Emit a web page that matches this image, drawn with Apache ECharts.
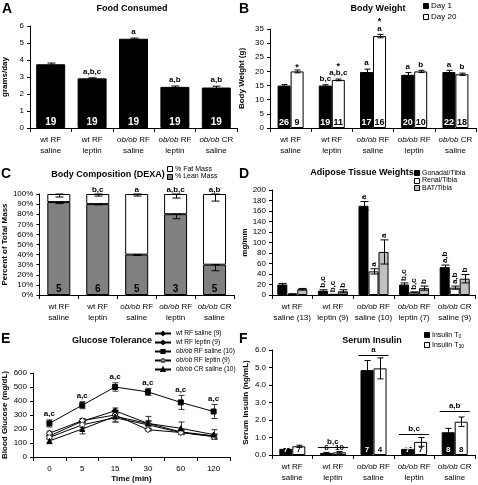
<!DOCTYPE html>
<html><head><meta charset="utf-8">
<script src="https://cdn.jsdelivr.net/npm/echarts@6/dist/echarts.min.js"></script>
<style>html,body{margin:0;padding:0;background:#fff}#c{width:478px;height:485px}</style>
</head><body><div id="c"></div>
<script>
// ---------- DATA ----------
const groupLabels = ['wt RF\nsaline', 'wt RF\nleptin', 'ob/ob RF\nsaline', 'ob/ob RF\nleptin', 'ob/ob CR\nsaline'];
const adiposeLabels = ['wt RF\nsaline (13)', 'wt RF\nleptin (9)', 'ob/ob RF\nsaline (10)', 'ob/ob RF\nleptin (7)', 'ob/ob CR\nsaline (9)'];
// A Food consumed
const foodMean = [3.75, 2.92, 5.25, 2.42, 2.38];
const foodErr = [0.07, 0.03, 0.04, 0.05, 0.08];
const foodN = ['19', '19', '19', '19', '19'];
const foodSig = ['', 'a,b,c', 'a', 'a,b', 'a,b'];
// B Body weight
const bwDay1 = [15, 15, 19.8, 18.8, 19.8];
const bwDay1Err = [0.4, 0.3, 1.0, 0.8, 0.6];
const bwDay20 = [20, 17, 32.5, 20, 19];
const bwDay20Err = [0.5, 0.3, 0.6, 0.4, 0.4];
const bwDay1N = ['26', '19', '17', '20', '22'];
const bwDay20N = ['9', '11', '16', '10', '18'];
const bwDay1Sig = ['', 'b,c', 'a', 'a', 'a'];
const bwDay20Sig = ['', 'a,b,c', 'a', 'b', 'b'];
const bwDay20Star = ['*', '*', '*', '', ''];
// C Body composition
const leanPct = [92, 90, 40, 80, 30];
const leanErr = [1.5, 0.7, 0.8, 4.5, 6];
const fatPct = [8, 10, 60, 20, 70];
const fatErr = [3, 2, 2, 4, 7];
const dexaN = ['5', '6', '5', '3', '5'];
const dexaSig = ['', 'b,c', 'a', 'a,b,c', 'a,b'];
// D Adipose tissue weights
const gonadal = [20, 8, 170, 20, 53];
const gonadalErr = [2, 2, 8, 3, 4];
const renal = [2, 1, 45, 5, 14];
const renalErr = [0.3, 0.3, 5, 1, 3];
const bat = [11, 7, 82, 13, 31];
const batErr = [1.5, 3, 23, 4, 8];
const gonadalSig = ['', 'b,c', 'a', 'b,c', 'a,b'];
const renalSig = ['', 'b,c', 'a', 'b,c', 'a,b'];
const batSig = ['', 'b', 'a', 'b', 'b'];
// E Glucose tolerance
const timePoints = ['0', '5', '15', '30', '60', '120'];
const gttWtSaline = [150, 255, 330, 240, 180, 150];
const gttWtSalineErr = [15, 15, 20, 20, 15, 15];
const gttWtLeptin = [170, 260, 300, 195, 175, 150];
const gttWtLeptinErr = [15, 15, 20, 10, 10, 10];
const gttObSaline = [240, 370, 500, 465, 390, 325];
const gttObSalineErr = [25, 25, 30, 25, 50, 50];
const gttObLeptin = [140, 230, 280, 230, 175, 145];
const gttObLeptinErr = [15, 20, 30, 25, 15, 15];
const gttObCR = [115, 200, 290, 240, 205, 160];
const gttObCRErr = [20, 35, 40, 50, 45, 35];
const gttObSalineSig = ['a,c', 'a,c', 'a,c', 'a,c', 'a,c', 'a,c'];
// F Serum insulin
const insT0 = [0.35, 0.12, 4.85, 0.35, 1.3];
const insT0Err = [0.02, 0.03, 0.55, 0.08, 0.22];
const insT30 = [0.5, 0.15, 4.95, 0.75, 1.9];
const insT30Err = [0.06, 0.05, 0.6, 0.25, 0.27];
const insT0N = ['7', '6', '7', '7', '8'];
const insT30N = ['7', '10', '4', '7', '8'];
const insSig = ['', 'b,c', 'a', 'b,c', 'a,b'];
const insBracket = [null, 0.45, 5.7, 1.2, 2.5];

// ---------- HELPERS ----------
const FONT = '"Liberation Sans", Arial, sans-serif';
const f = (s, b) => (b ? 'bold ' : '') + s + 'px ' + FONT;
const richOb = s => s.replace(/ob\/ob/g, '{i|ob/ob}');

function catAxis(gi, data, extra) {
  return Object.assign({
    type: 'category', gridIndex: gi, data: data,
    axisLine: { lineStyle: { color: '#000', width: 1 } },
    axisTick: { show: true, length: 4, lineStyle: { color: '#000' } },
    axisLabel: {
      color: '#000', fontSize: 8, fontFamily: FONT, margin: 6, lineHeight: 11, interval: 0,
      formatter: v => richOb(v),
      rich: { i: { fontStyle: 'italic', fontSize: 8, fontFamily: FONT, lineHeight: 11, color: '#000' } }
    }
  }, extra || {});
}
function valAxis(gi, max, interval, name, gap, fmt) {
  return {
    type: 'value', gridIndex: gi, min: 0, max: max, interval: interval,
    name: name, nameLocation: 'middle', nameGap: gap,
    nameTextStyle: { fontSize: 8, fontWeight: 'bold', fontFamily: FONT, color: '#000' },
    splitLine: { show: false },
    axisLine: { show: true, lineStyle: { color: '#000' } },
    axisTick: { show: true, length: 3, lineStyle: { color: '#000' } },
    axisLabel: { fontSize: 8, fontFamily: FONT, color: '#000', margin: 6, formatter: fmt }
  };
}
// items: [cat, value, errMinus, errPlus, offsetPx]
function errSeries(ai, items, cap, color) {
  return {
    type: 'custom', xAxisIndex: ai, yAxisIndex: ai, z: 10, silent: true,
    data: items.map(it => [it[0], it[1]]),
    renderItem: (params, api) => {
      const it = items[params.dataIndex];
      const top = api.coord([it[0], it[1] + it[3]]);
      const bot = api.coord([it[0], it[1] - it[2]]);
      const x = Math.round(top[0] + (it[4] || 0)) + 0.5;
      const st = { stroke: color || '#000', lineWidth: 1 };
      return {
        type: 'group', children: [
          { type: 'line', shape: { x1: x, y1: top[1], x2: x, y2: bot[1] }, style: st },
          { type: 'line', shape: { x1: x - cap, y1: top[1], x2: x + cap, y2: top[1] }, style: st },
          { type: 'line', shape: { x1: x - cap, y1: bot[1], x2: x + cap, y2: bot[1] }, style: st }
        ]
      };
    }
  };
}
function textSeries(ai, items) {
  return {
    type: 'custom', xAxisIndex: ai, yAxisIndex: ai, z: 11, silent: true,
    data: items.map(it => [it.c, it.v]),
    renderItem: (params, api) => {
      const it = items[params.dataIndex];
      const p = api.coord([it.c, it.v]);
      const al = it.align || 'center', va = it.va || 'bottom';
      return {
        type: 'text', x: p[0] + (it.dx || 0), y: p[1] + (it.dy || 0), rotation: it.rot || 0,
        style: { text: it.t, fill: it.color || '#000', font: f(it.size || 8, it.bold), align: al, verticalAlign: va, textAlign: al, textVerticalAlign: va }
      };
    }
  };
}
function bracketSeries(ai, items, half) {
  return {
    type: 'custom', xAxisIndex: ai, yAxisIndex: ai, z: 11, silent: true,
    data: items.map(it => [it.c, it.v]),
    renderItem: (params, api) => {
      const it = items[params.dataIndex];
      const p = api.coord([it.c, it.v]);
      const y = Math.round(p[1]) + 0.5;
      return {
        type: 'group', children: [
          { type: 'line', shape: { x1: p[0] - half, y1: y, x2: p[0] + half, y2: y }, style: { stroke: '#000', lineWidth: 1 } },
          { type: 'text', x: p[0], y: y - 2, style: { text: it.t, font: f(8, true), fill: '#000', align: 'center', verticalAlign: 'bottom', textAlign: 'center', textVerticalAlign: 'bottom' } }
        ]
      };
    }
  };
}
const nonEmpty = (arr, fn) => arr.map(fn).filter(x => x && x.t);

// ---------- GRIDS / AXES ----------
const grids = [
  { left: 30, top: 26, width: 207, height: 102 },
  { left: 270, top: 29, width: 206, height: 99 },
  { left: 33, top: 194, width: 201, height: 101 },
  { left: 272, top: 190, width: 203, height: 105 },
  { left: 31, top: 373, width: 199, height: 84 },
  { left: 272, top: 350, width: 203, height: 105 }
];
const xAxes = [
  catAxis(0, groupLabels), catAxis(1, groupLabels), catAxis(2, groupLabels),
  catAxis(3, adiposeLabels), catAxis(4, timePoints, { name: 'Time (min)', nameLocation: 'middle', nameGap: 17, nameTextStyle: { fontSize: 8, fontWeight: 'bold', fontFamily: FONT, color: '#000' } }),
  catAxis(5, groupLabels)
];
const yAxes = [
  valAxis(0, 6, 1, 'grams/day', 21),
  valAxis(1, 35, 5, 'Body Weight (g)', 24),
  valAxis(2, 100, 10, 'Percent of Total Mass', 26, '{value}%'),
  valAxis(3, 200, 20, 'mg/mm', 23),
  valAxis(4, 600, 100, 'Blood Glucose (mg/dL)', 24),
  valAxis(5, 6, 1, 'Serum Insulin (ng/mL)', 22, v => v.toFixed(1))
];

const series = [];
const bar = (ai, name, data, color, w, extra) => Object.assign({
  type: 'bar', name: name, xAxisIndex: ai, yAxisIndex: ai, data: data, barWidth: w, barGap: '0%',
  itemStyle: { color: color, borderColor: '#000', borderWidth: 1 }, emphasis: { disabled: true }
}, extra || {});

// A
series.push(bar(0, 'Food', foodMean, '#000', 29));
series.push(errSeries(0, foodMean.map((v, i) => [i, v, foodErr[i], foodErr[i], 0]), 4));
series.push(textSeries(0, foodN.map((t, i) => ({ c: i, v: 0, t: t, dy: -1, color: '#fff', bold: true, size: 10 }))));
series.push(textSeries(0, nonEmpty(foodSig, (t, i) => ({ c: i, v: foodMean[i] + foodErr[i], t: t, dy: -2, bold: true }))));

// B
series.push(bar(1, 'Day 1', bwDay1, '#000', 13));
series.push(bar(1, 'Day 20', bwDay20, '#fff', 13));
series.push(errSeries(1, bwDay1.map((v, i) => [i, v, bwDay1Err[i], bwDay1Err[i], -6.5]), 3));
series.push(errSeries(1, bwDay20.map((v, i) => [i, v, bwDay20Err[i], bwDay20Err[i], 6.5]), 3));
series.push(textSeries(1, bwDay1N.map((t, i) => ({ c: i, v: 0, t: t, dx: -6.5, dy: -1, color: '#fff', bold: true, size: 9 }))));
series.push(textSeries(1, bwDay20N.map((t, i) => ({ c: i, v: 0, t: t, dx: 6.5, dy: -1, color: '#000', bold: true, size: 9 }))));
series.push(textSeries(1, nonEmpty(bwDay1Sig, (t, i) => ({ c: i, v: bwDay1[i] + bwDay1Err[i], t: t, dx: -6.5, dy: -2, bold: true }))));
series.push(textSeries(1, nonEmpty(bwDay20Sig, (t, i) => ({ c: i, v: bwDay20[i] + bwDay20Err[i], t: t, dx: 6.5, dy: -2, bold: true }))));
series.push(textSeries(1, nonEmpty(bwDay20Star, (t, i) => ({ c: i, v: bwDay20[i] + bwDay20Err[i], t: t, dx: 6.5, dy: bwDay20Sig[i] ? -8 : 2, bold: true, size: 9 }))));

// C
series.push(bar(2, '% Lean Mass', leanPct, '#808080', 23, { stack: 'dexa' }));
series.push(bar(2, '% Fat Mass', fatPct, '#fff', 23, { stack: 'dexa' }));
series.push(errSeries(2, leanPct.map((v, i) => [i, v, leanErr[i], 0, 0]), 4));
series.push(errSeries(2, fatPct.map((v, i) => [i, 100, fatErr[i], 0, 0]), 4));
series.push(textSeries(2, dexaN.map((t, i) => ({ c: i, v: 0, t: t, dy: -1, color: '#000', bold: true, size: 10 }))));
series.push(textSeries(2, nonEmpty(dexaSig, (t, i) => ({ c: i, v: 100, t: t, dy: 0, bold: true }))));

// D
series.push(bar(3, 'Gonadal/Tibia', gonadal, '#000', 10));
series.push(bar(3, 'Renal/Tibia', renal, '#fff', 10));
series.push(bar(3, 'BAT/Tibia', bat, '#c0c0c0', 10));
const dOff = [-10, 0, 10];
[[gonadal, gonadalErr, gonadalSig], [renal, renalErr, renalSig], [bat, batErr, batSig]].forEach((s, k) => {
  series.push(errSeries(3, s[0].map((v, i) => [i, v, s[1][i], s[1][i], dOff[k]]), 4));
  series.push(textSeries(3, nonEmpty(s[2], (t, i) => ({ c: i, v: s[0][i] + s[1][i], t: t, dx: dOff[k], dy: -2, rot: Math.PI / 2, align: 'left', va: 'middle', bold: true }))));
});

// E
const gttDefs = [
  ['wt RF saline (9)', gttWtSaline, gttWtSalineErr, 'diamond', '#000', '#000', 6],
  ['wt RF leptin (9)', gttWtLeptin, gttWtLeptinErr, 'diamond', '#fff', '#000', 6],
  ['ob/ob RF saline (10)', gttObSaline, gttObSalineErr, 'rect', '#000', '#000', 5],
  ['ob/ob RF leptin (9)', gttObLeptin, gttObLeptinErr, 'circle', '#fff', '#555', 5],
  ['ob/ob CR saline (10)', gttObCR, gttObCRErr, 'triangle', '#000', '#000', 5]
];
gttDefs.forEach(d => {
  series.push(errSeries(4, d[1].map((v, i) => [i, v, d[2][i], d[2][i], 0]), 3, '#333'));
});
gttDefs.forEach(d => {
  series.push({
    type: 'line', name: d[0], xAxisIndex: 4, yAxisIndex: 4, data: d[1], z: 12,
    symbol: d[3], symbolSize: d[6], showAllSymbol: true,
    lineStyle: { color: '#000', width: 1 },
    itemStyle: { color: d[4], borderColor: d[5], borderWidth: 1 },
    emphasis: { disabled: true }
  });
});
series.push(textSeries(4, gttObSaline.map((v, i) => ({ c: i, v: v + gttObSalineErr[i], t: gttObSalineSig[i], dy: -2, bold: true }))));

// F
series.push(bar(5, 'Insulin T0', insT0, '#000', 13));
series.push(bar(5, 'Insulin T30', insT30, '#fff', 13));
series.push(errSeries(5, insT0.map((v, i) => [i, v, insT0Err[i], insT0Err[i], -6.5]), 3));
series.push(errSeries(5, insT30.map((v, i) => [i, v, insT30Err[i], insT30Err[i], 6.5]), 3));
series.push(textSeries(5, insT0N.map((t, i) => i === 1
  ? { c: i, v: 0, t: t, dx: -6.5, dy: -3, color: '#000', bold: true, size: 8 }
  : { c: i, v: 0, t: t, dx: -6.5, dy: -1, color: '#fff', bold: true, size: 8 })));
series.push(textSeries(5, insT30N.map((t, i) => ({ c: i, v: 0, t: t, dx: 6.5, dy: i === 1 ? -3 : -1, color: '#000', bold: true, size: 8 }))));
series.push(bracketSeries(5, nonEmpty(insSig, (t, i) => ({ c: i, v: insBracket[i], t: t })), 15));

// ---------- GRAPHICS (letters, titles, legends) ----------
const g = [];
const letter = (t, x, y) => g.push({ type: 'text', x: x, y: y, style: { text: t, font: f(14, true), fill: '#000', align: 'left', verticalAlign: 'top' } });
letter('A', 2, 2); letter('B', 239, 2); letter('C', 1, 167); letter('D', 239, 167); letter('E', 1, 332); letter('F', 239, 332);
const title = (t, x, y) => g.push({ type: 'text', x: x, y: y, style: { text: t, font: f(9, true), fill: '#000', align: 'center', verticalAlign: 'middle' } });
title('Food Consumed', 132, 9); title('Body Weight', 378, 9); title('Body Composition (DEXA)', 108, 175);
title('Adipose Tissue Weights', 362, 173); title('Glucose Tolerance', 112, 341); title('Serum Insulin', 372, 341);
const legRect = (x, y, fill, label, size, rich) => {
  g.push({ type: 'rect', shape: { x: x + 0.5, y: Math.round(y - 3) + 0.5, width: 5, height: 5 }, style: { fill: fill, stroke: '#000', lineWidth: 1 } });
  g.push({ type: 'text', x: x + 8, y: y, style: { text: label, font: f(size), fill: '#000', align: 'left', verticalAlign: 'middle', rich: rich } });
};
legRect(423, 6, '#000', 'Day 1', 8); legRect(423, 17, '#fff', 'Day 20', 8);
legRect(167, 169, '#fff', '% Fat Mass', 7); legRect(167, 176.5, '#808080', '% Lean Mass', 7);
legRect(414, 173, '#000', 'Gonadal/Tibia', 7); legRect(414, 180.5, '#fff', 'Renal/Tibia', 7); legRect(414, 188, '#c0c0c0', 'BAT/Tibia', 7);
const subRich = { s: { fontSize: 5, fontFamily: FONT, padding: [4, 0, 0, 0] } };
legRect(424, 335, '#000', 'Insulin T{s|0}', 7, subRich); legRect(424, 345, '#fff', 'Insulin T{s|30}', 7, subRich);

const option = {
  animation: false,
  backgroundColor: '#fff',
  textStyle: { fontFamily: FONT },
  grid: grids,
  xAxis: xAxes,
  yAxis: yAxes,
  legend: [{
    data: gttDefs.map(d => d[0]), orient: 'vertical', left: 154, top: 330, padding: 0,
    itemWidth: 16, itemHeight: 4, itemGap: 2, selectedMode: false,
    formatter: n => richOb(n),
    textStyle: { fontSize: 6.5, fontFamily: FONT, color: '#000', lineHeight: 7, rich: { i: { fontStyle: 'italic', fontSize: 6.5, fontFamily: FONT, lineHeight: 7 } } }
  }],
  series: series,
  graphic: g
};
const chart = echarts.init(document.getElementById('c'), null, { renderer: 'canvas' });
chart.setOption(option);
</script>
</body></html>
